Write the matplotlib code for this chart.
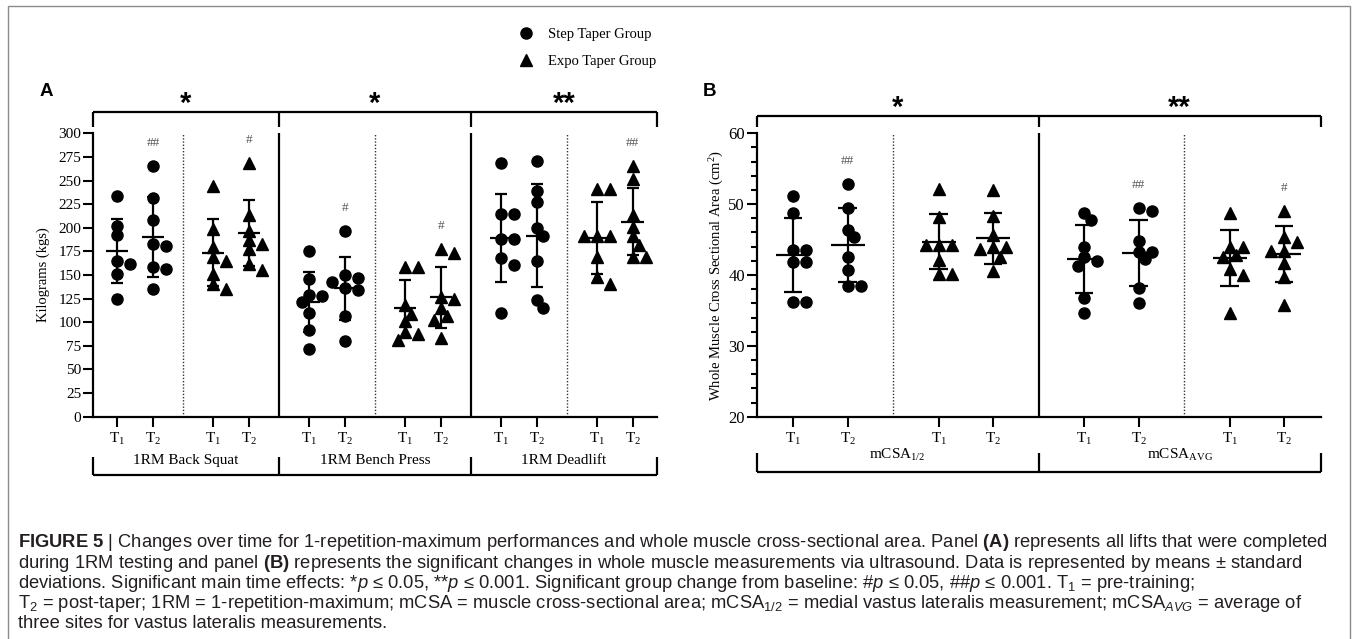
import numpy as np
import matplotlib
matplotlib.use('Agg')
import matplotlib.pyplot as plt
import matplotlib.transforms as mtransforms
from matplotlib.patches import Rectangle

plt.rcParams['font.family'] = ['Liberation Serif', 'DejaVu Serif']
plt.rcParams['mathtext.fontset'] = 'custom'
plt.rcParams['mathtext.rm'] = 'Liberation Sans'
plt.rcParams['mathtext.it'] = 'Liberation Sans:italic'
plt.rcParams['mathtext.bf'] = 'Liberation Sans:bold'

W, H = 1358, 639

# ---------------- data ----------------
time_labels = [r'$\mathregular{T_1}$', r'$\mathregular{T_2}$']
group_labels = ['Step Taper Group', 'Expo Taper Group']

# panel A, kg
squat_step_t1 = [234, 202, 192, 165, 162, 151, 125]
squat_step_t2 = [265, 232, 208, 183, 181, 158, 156, 135]
squat_expo_t1 = [244, 199, 180, 169, 165, 151, 141, 135]
squat_expo_t2 = [269, 214, 197, 187, 183, 177, 162, 155]
bench_step_t1 = [175, 146, 129, 128, 121, 110, 92, 72]
bench_step_t2 = [197, 150, 147, 143, 136, 134, 107, 80]
bench_expo_t1 = [158, 158, 118, 109, 101, 90, 88, 81]
bench_expo_t2 = [178, 173, 127, 125, 115, 107, 102, 83]
dead_step_t1 = [269, 215, 215, 188, 188, 168, 161, 110]
dead_step_t2 = [271, 239, 227, 200, 191, 165, 124, 115]
dead_expo_t1 = [241, 241, 191, 191, 191, 169, 148, 141]
dead_expo_t2 = [265, 252, 214, 201, 191, 182, 169, 169]

a_means = [175.4, 190.0, 173.7, 194.2, 121.8, 135.9, 114.8, 126.4, 189.0, 191.5, 189.5, 206.5]
a_sds = [33.5, 42.4, 35.3, 35.0, 31.7, 33.5, 30.0, 32.3, 46.7, 54.4, 38.0, 35.6]
a_marks = ['', '##', '', '#', '', '#', '', '#', '', '', '', '##']
a_stars = ['*', '*', '**']
a_sections = ['1RM Back Squat', '1RM Bench Press', '1RM Deadlift']

# panel B, cm^2
m12_step_t1 = [51.2, 48.7, 43.5, 43.5, 41.8, 41.8, 36.2, 36.2]
m12_step_t2 = [52.8, 49.4, 46.4, 45.3, 42.5, 40.7, 38.4, 38.4]
m12_expo_t1 = [52.2, 48.2, 44.2, 44.2, 44.2, 42.1, 40.2, 40.2]
m12_expo_t2 = [52.0, 48.3, 45.7, 43.9, 43.9, 43.6, 42.6, 40.5]
avg_step_t1 = [48.7, 47.7, 44.0, 42.5, 42.0, 41.3, 36.7, 34.7]
avg_step_t2 = [49.4, 49.1, 44.8, 43.2, 43.2, 42.2, 38.1, 36.1]
avg_expo_t1 = [48.8, 43.9, 43.9, 42.8, 42.6, 40.9, 40.0, 34.7]
avg_expo_t2 = [49.0, 45.3, 44.7, 43.4, 43.4, 41.7, 39.7, 35.8]

b_means = [42.8, 44.25, 44.7, 45.2, 42.2, 43.1, 42.4, 42.9]
b_sds = [5.2, 5.2, 3.9, 3.6, 4.8, 4.7, 4.0, 3.95]
b_marks = ['', '##', '', '', '', '##', '', '#']
b_stars = ['*', '**']
b_sections = [r'$\mathregular{mCSA_{1/2}}$', r'$\mathregular{mCSA_{AVG}}$']

a_points = [squat_step_t1, squat_step_t2, squat_expo_t1, squat_expo_t2,
            bench_step_t1, bench_step_t2, bench_expo_t1, bench_expo_t2,
            dead_step_t1, dead_step_t2, dead_expo_t1, dead_expo_t2]
b_points = [m12_step_t1, m12_step_t2, m12_expo_t1, m12_expo_t2,
            avg_step_t1, avg_step_t2, avg_expo_t1, avg_expo_t2]

STEP = 2.67   # distance between group starts (T1 to T1)
D_PX = 11     # marker diameter in pixels


def swarm_offsets(vals, ax):
    # simple greedy beeswarm, done in pixel space
    p0 = ax.transData.transform((0, 0))
    p1 = ax.transData.transform((1, 1))
    sx, sy = p1[0] - p0[0], p1[1] - p0[1]
    vals = np.asarray(vals, float)
    order = np.argsort(-vals, kind='stable')
    cands = [0]
    for k in range(1, 6):
        cands += [k, -k]
    placed = []
    offs = np.zeros(len(vals))
    for i in order:
        y = vals[i] * sy
        for c in cands:
            x = c * 0.6 * D_PX
            if all((x - px) ** 2 + (y - py) ** 2 >= (0.85 * D_PX) ** 2 for px, py in placed):
                break
        placed.append((x, y))
        offs[i] = x / sx
    return offs


def draw_panel(ax, points, means, sds, marks, stars, sections, ylim,
               top_y, tick_y, star_y, bot_y, bot_tick_y, lab_y):
    n = len(points)
    xs = np.array([(i // 2) * STEP + (i % 2) for i in range(n)], float)
    xlim = (-0.67, xs[-1] + 0.67)
    ax.set_xlim(*xlim)
    ax.set_ylim(*ylim)

    handles = {}
    for i, vals in enumerate(points):
        grp = (i // 2) % 2
        mk = 'o' if grp == 0 else '^'
        ms = 8 if grp == 0 else 8.5
        off = swarm_offsets(vals, ax)
        h, = ax.plot(xs[i] + off, vals, ls='', marker=mk, ms=ms, color='black',
                     mec='black', clip_on=False, zorder=3)
        handles[grp] = h
        m, s = means[i], sds[i]
        ax.hlines(m, xs[i] - 0.31, xs[i] + 0.31, color='black', lw=1.6, zorder=4)
        ax.hlines([m - s, m + s], xs[i] - 0.17, xs[i] + 0.17, color='black', lw=1.6, zorder=4)
        ax.vlines(xs[i], m - s, m + s, color='black', lw=1.6, zorder=4)
        if marks[i]:
            ax.annotate(marks[i], (xs[i], max(vals)), xytext=(0, 16.5),
                        textcoords='offset points', ha='center', va='center',
                        fontsize=9.5, color='#555555')

    # separators between groups (dotted) and between sections (solid)
    n_groups = n // 2
    for g in range(n_groups - 1):
        xm = g * STEP + 1 + (STEP - 1) / 2
        if g % 2 == 0:
            ax.vlines(xm, ylim[0], ylim[1], color='#333333', lw=1.0,
                      linestyles=(0, (1, 1.3)), zorder=1)
        else:
            ax.vlines(xm, ylim[0], ylim[1], color='black', lw=1.6, zorder=1)

    ax.set_xticks(xs)
    ax.set_xticklabels([time_labels[i % 2] for i in range(n)])
    ax.tick_params(axis='x', direction='out', length=7, width=1.5, labelsize=11, pad=3)
    ax.tick_params(axis='y', direction='out', length=7, width=1.5, labelsize=11, pad=1.5)
    ax.tick_params(axis='y', which='minor', direction='out', length=4, width=1.5)
    for side in ['top', 'right']:
        ax.spines[side].set_visible(False)
    for side in ['left', 'bottom']:
        ax.spines[side].set_linewidth(1.6)

    # brackets above and below
    trans = mtransforms.blended_transform_factory(ax.transData, ax.transAxes)
    bounds = [xlim[0]] + [g * STEP + 1 + (STEP - 1) / 2 for g in range(1, n_groups - 1, 2)] + [xlim[1]]
    kw = dict(transform=trans, clip_on=False, color='black', lw=1.6, solid_capstyle='butt')
    ax.plot([xlim[0], xlim[1]], [top_y, top_y], **kw)
    ax.plot([xlim[0], xlim[1]], [bot_y, bot_y], **kw)
    for b in bounds:
        ax.plot([b, b], [top_y, tick_y], **kw)
        ax.plot([b, b], [bot_y, bot_tick_y], **kw)
    for k in range(len(bounds) - 1):
        c = (bounds[k] + bounds[k + 1]) / 2
        ax.text(c, star_y, stars[k], transform=trans, ha='center', va='center',
                fontsize=21, fontweight='bold', family='Liberation Sans')
        ax.text(c, lab_y, sections[k], transform=trans, ha='center', va='center',
                fontsize=11)
    return handles


fig = plt.figure(figsize=(W / 100, H / 100), dpi=100)

ax_a = fig.add_axes([93 / W, 1 - 416.7 / H, 563.7 / W, 283.4 / H])
ax_a.set_yticks(np.arange(0, 301, 25))
handles = draw_panel(ax_a, a_points, a_means, a_sds, a_marks, a_stars, a_sections,
                     (0, 300), 1.0762, 1.0233, 1.105, -0.2058, -0.1412, -0.153)
ax_a.text(-0.088, 0.5, 'Kilograms (kgs)', rotation=90, transform=ax_a.transAxes,
          ha='center', va='center', fontsize=10.5)

ax_b = fig.add_axes([756.7 / W, 1 - 416.7 / H, 564 / W, 283.4 / H])
ax_b.set_yticks(np.arange(20, 61, 10))
ax_b.set_yticks(np.arange(20, 61, 2), minor=True)
draw_panel(ax_b, b_points, b_means, b_sds, b_marks, b_stars, b_sections,
           (20, 60), 1.0621, 1.0233, 1.09, -0.195, -0.128, -0.135)
ax_b.tick_params(axis='y', labelsize=12)
ax_b.text(-0.071, 0.5, r'Whole Muscle Cross Sectional Area ($\mathregular{cm^2}$)',
          rotation=90, transform=ax_b.transAxes, ha='center', va='center', fontsize=10.5)

# panel letters
fig.text(40 / W, 1 - 92 / H, 'A', fontsize=13.5, fontweight='bold', family='Liberation Sans',
         ha='left', va='center')
fig.text(703 / W, 1 - 92 / H, 'B', fontsize=13.5, fontweight='bold', family='Liberation Sans',
         ha='left', va='center')

# legend
fig.legend([handles[0], handles[1]], group_labels, loc='upper left',
           bbox_to_anchor=(519 / W, 1 - 28 / H), frameon=False, fontsize=10.5,
           handlelength=1.0, handletextpad=1.0, labelspacing=0.95,
           borderpad=0, borderaxespad=0)

# outer frame
fig.add_artist(Rectangle((8 / W, -0.05), 1342 / W, 1.05 - 6 / H, transform=fig.transFigure,
                         fill=False, edgecolor='#8a8a8a', lw=1.0))

# caption
cap = [
    r'$\mathbf{FIGURE\ 5}$ | Changes over time for 1-repetition-maximum performances and whole muscle cross-sectional area. Panel $\mathbf{(A)}$ represents all lifts that were completed',
    r'during 1RM testing and panel $\mathbf{(B)}$ represents the significant changes in whole muscle measurements via ultrasound. Data is represented by means ± standard',
    r'deviations. Significant main time effects: *$\mathit{p}$ ≤ 0.05, **$\mathit{p}$ ≤ 0.001. Significant group change from baseline: #$\mathit{p}$ ≤ 0.05, ##$\mathit{p}$ ≤ 0.001. T$_1$ = pre-training;',
    r'T$_2$ = post-taper; 1RM = 1-repetition-maximum; mCSA = muscle cross-sectional area; mCSA$_{1/2}$ = medial vastus lateralis measurement; mCSA$_{\mathit{AVG}}$ = average of',
    r'three sites for vastus lateralis measurements.',
]
cap_y = [542.7, 563, 583, 603, 624]
for line, yy in zip(cap, cap_y):
    fig.text(18 / W, 1 - yy / H, line, fontsize=13.2, color='#231f20',
             family=['Liberation Sans', 'DejaVu Sans'], ha='left', va='center')

fig.savefig('out.png', dpi=100)
